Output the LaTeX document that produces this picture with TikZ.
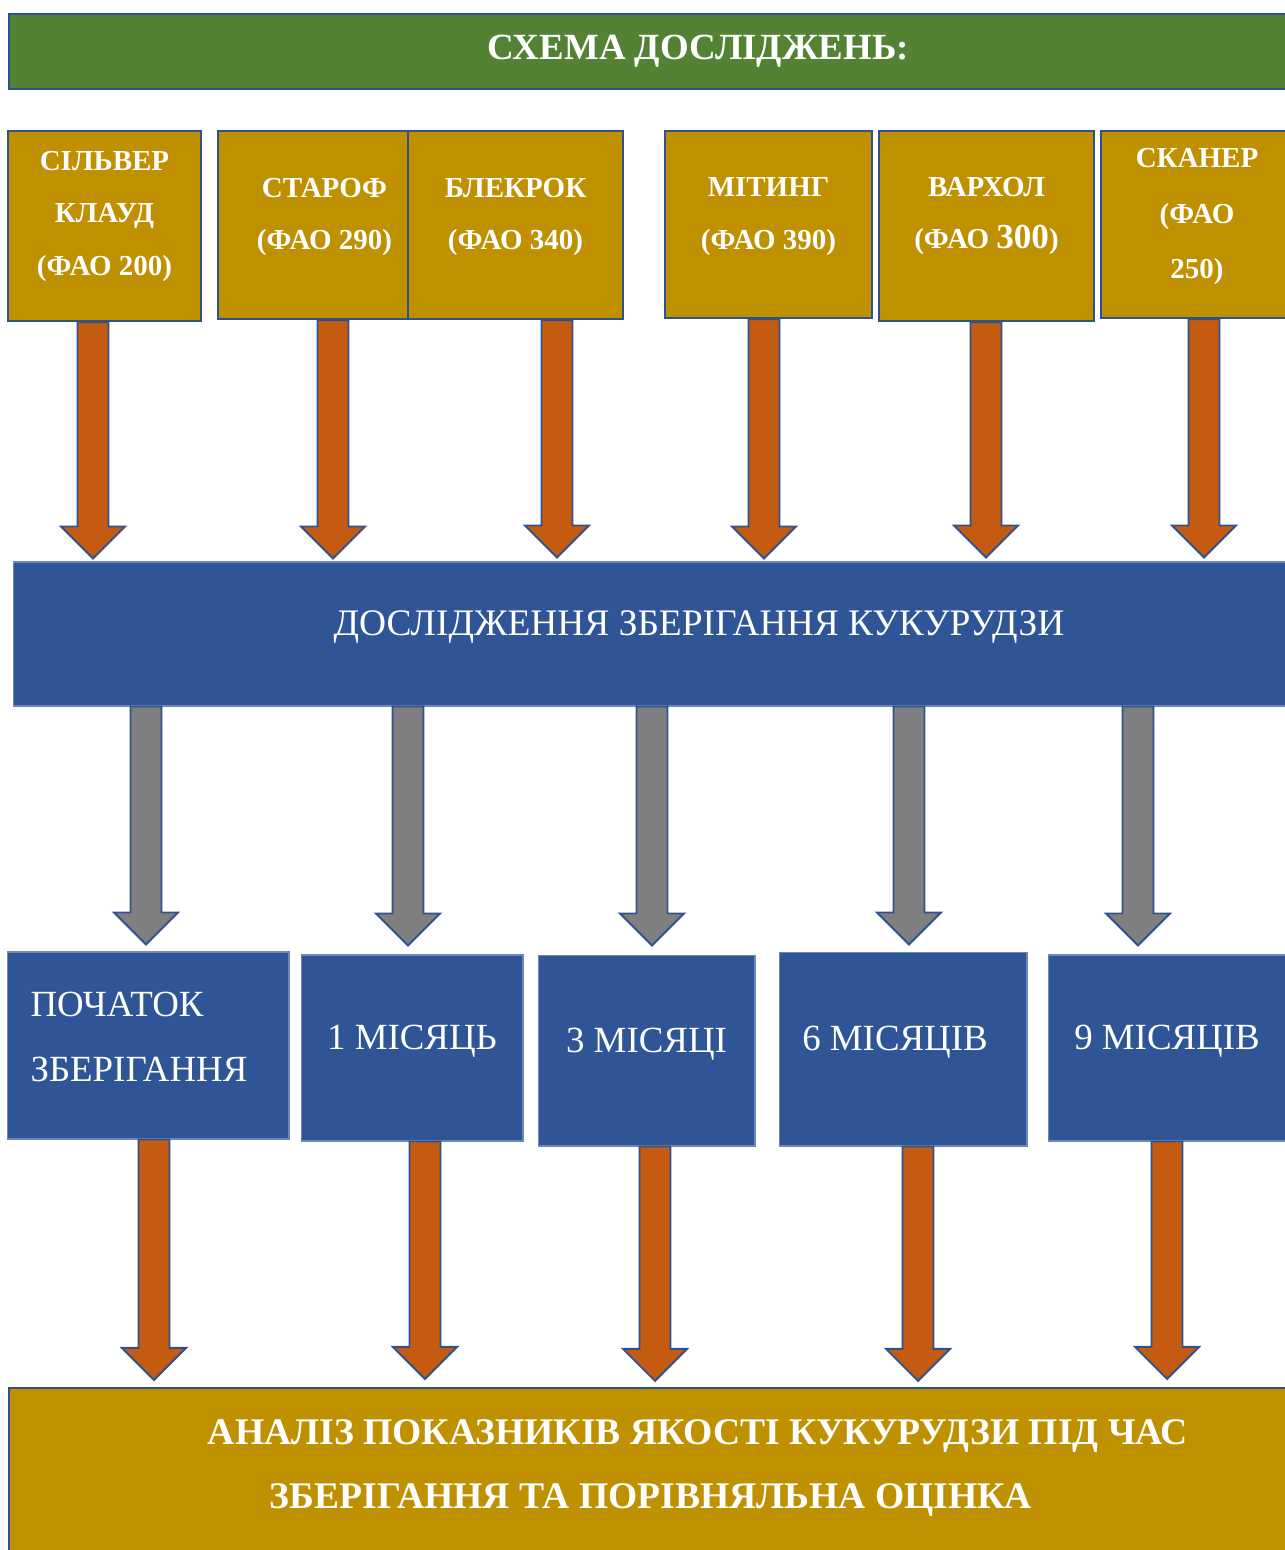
\documentclass[tikz,border=0pt]{standalone}
\usepackage{fontspec}
\setmainfont{Liberation Serif}
\usepackage{xcolor}
\usetikzlibrary{calc}

\begin{document}
\begin{tikzpicture}[x=0.02cm, y=-0.02cm,
  mybox/.style={draw=edge, line width=1.3pt, text=white, align=center, inner sep=0pt},
  cropbox/.style={mybox, fill=gold, text depth=12.5pt, font=\bfseries\fontsize{16.5}{30}\selectfont},
  stagebox/.style={mybox, fill=deepblue, draw=deepblue!70!white, line width=0.6pt, text depth=12pt, font=\fontsize{21}{37}\selectfont},
  myarrow/.style={draw=edge, line width=1.1pt, line join=miter}]
\useasboundingbox (0,0) rectangle (1284,1550);
\definecolor{leaf}{HTML}{548235}
\definecolor{gold}{HTML}{BF9000}
\definecolor{rust}{HTML}{C55A11}
\definecolor{deepblue}{HTML}{2F5597}
\definecolor{edge}{HTML}{2F528F}
\definecolor{ash}{HTML}{7F7F7F}
% title
\node [mybox, fill=leaf, minimum width=27.56cm, minimum height=1.5cm, font=\bfseries\fontsize{21}{25}\selectfont] (scheme) at (698,51.5) {СХЕМА ДОСЛІДЖЕНЬ:};
% hybrids
\node [cropbox, minimum width=3.86cm, minimum height=3.8cm, text depth=14.5pt] (s1) at (104.5,226) {СІЛЬВЕР\\КЛАУД\\(ФАО 200)};
\node [cropbox, minimum width=4.26cm, minimum height=3.76cm] (s2) at (324.5,225) {СТАРОФ\\(ФАО 290)};
\node [cropbox, minimum width=4.3cm, minimum height=3.76cm] (s3) at (515.5,225) {БЛЕКРОК\\(ФАО 340)};
\node [cropbox, minimum width=4.14cm, minimum height=3.74cm] (s4) at (768.5,224.5) {МІТИНГ\\(ФАО 390)};
\node [cropbox, minimum width=4.3cm, minimum height=3.8cm, text depth=15pt] (s5) at (986.5,226) {ВАРХОЛ\\(ФАО {\fontsize{20}{30}\selectfont 300})};
\node [cropbox, minimum width=3.84cm, minimum height=3.74cm, font=\bfseries\fontsize{16.5}{31.5}\selectfont] (s6) at (1197,224.5) {СКАНЕР\\(ФАО\\250)};
% storage study
\node [stagebox, minimum width=27.44cm, minimum height=2.88cm, font=\fontsize{21.3}{37}\selectfont] (study) at (699,634) {ДОСЛІДЖЕННЯ ЗБЕРІГАННЯ КУКУРУДЗИ};
% storage terms
\node [stagebox, minimum width=5.64cm, minimum height=3.74cm, align=left, text width=4.7cm, text depth=47pt] (t1) at (148,1045.5) {ПОЧАТОК\\ЗБЕРІГАННЯ};
\node [stagebox, minimum width=4.44cm, minimum height=3.72cm] (t2) at (412,1048) {1 МІСЯЦЬ};
\node [stagebox, minimum width=4.34cm, minimum height=3.82cm] (t3) at (646.5,1050.5) {3 МІСЯЦІ};
\node [stagebox, minimum width=4.96cm, minimum height=3.88cm] (t4) at (903,1049) {6 МІСЯЦІВ\hspace*{0.32cm}};
\node [stagebox, minimum width=4.76cm, minimum height=3.72cm] (t5) at (1167,1048) {9 МІСЯЦІВ};
% analysis
\node [mybox, fill=gold, minimum width=27.56cm, minimum height=3.44cm] (analysis) at (698,1474) {};
\node [text=white, align=left, font=\bfseries\fontsize{21.4}{36}\selectfont] (result) at (698,1468) {АНАЛІЗ ПОКАЗНИКІВ ЯКОСТІ КУКУРУДЗИ ПІД ЧАС\\\hspace*{1.24cm}ЗБЕРІГАННЯ ТА ПОРІВНЯЛЬНА ОЦІНКА};
% arrows
\foreach \xx/\src/\dst/\crlr/\gap in {93/s1/study/rust/3, 333/s2/study/rust/3, 557/s3/study/rust/4,
  764/s4/study/rust/3, 986/s5/study/rust/4, 1204/s6/study/rust/4,
  146/study/t1/ash/7, 408/study/t2/ash/9, 652/study/t3/ash/9, 909/study/t4/ash/7, 1138/study/t5/ash/9,
  154/t1/analysis/rust/7, 425/t2/analysis/rust/8, 655/t3/analysis/rust/6, 918/t4/analysis/rust/6, 1167/t5/analysis/rust/8}
  { \draw [myarrow, fill=\crlr] ($(\xx,0 |- \src.south)+(-15.5,0)$) -- ($(\xx,0 |- \dst.north)+(-15.5,-32-\gap)$)
      -- ++(-16.5,0) -- ++(32,32) -- ++(32,-32) -- ++(-16.5,0)
      -- ($(\xx,0 |- \src.south)+(15.5,0)$) -- cycle;}
\end{tikzpicture}
\end{document}
